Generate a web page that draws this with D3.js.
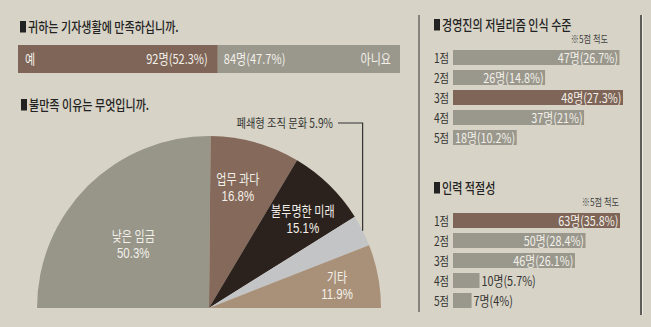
<!DOCTYPE html>
<html>
<head>
<meta charset="utf-8">
<script src="https://cdn.jsdelivr.net/npm/d3@7/dist/d3.min.js"></script>
<style>
  html, body { margin: 0; padding: 0; background: #d7d3c6; }
  svg { display: block; }
  text { font-family: "Noto Sans CJK KR", "Noto Sans", sans-serif; }
</style>
</head>
<body>
<svg id="chart" width="651" height="327"></svg>
<script>
// Survey data
const satisfactionLabels = ["예", "아니요"];
const satisfactionCounts = [92, 84];
const satisfactionPct = [52.3, 47.7];

const reasonLabels = ["낮은 임금", "업무 과다", "불투명한 미래", "폐쇄형 조직 문화", "기타"];
const reasonPct = [50.3, 16.8, 15.1, 5.9, 11.9];

const scoreLabels = ["1점", "2점", "3점", "4점", "5점"];
const mgmtCounts = [47, 26, 48, 37, 18];
const mgmtPct = [26.7, 14.8, 27.3, 21, 10.2];
const staffCounts = [63, 50, 46, 10, 7];
const staffPct = [35.8, 28.4, 26.1, 5.7, 4];

const titles = ["귀하는 기자생활에 만족하십니까.", "불만족 이유는 무엇입니까.",
                "경영진의 저널리즘 인식 수준", "인력 적절성"];
const scaleNote = "※5점 척도";

// Palette
const C = {
  ink: "#222", text: "#333", light: "#f3f0ea",
  brown: "#7e6557", gray: "#9a988d",
  pie: ["#979689", "#85695a", "#2b221d", "#c3c4c6", "#a99079"]
};
const CONDENSE = 0.82;

const svg = d3.select("#chart");

// Condensed text helper
function txt(g, x, y, s, o = {}) {
  return g.append("text")
    .attr("transform", `translate(${x},${y}) scale(${CONDENSE},1)`)
    .attr("text-anchor", o.anchor || "start")
    .attr("font-size", o.size || 13)
    .attr("font-weight", o.weight || 400)
    .attr("fill", o.fill || C.text)
    .text(s);
}
function title(g, x, y, s) {
  g.append("rect").attr("class", "marker")
    .attr("x", x).attr("y", y - 11).attr("width", 6).attr("height", 11.5).attr("fill", C.ink);
  txt(g, x + 8, y, s, { size: 13.5, weight: 500, fill: C.ink });
}
const fmt = (n, p) => `${n}명(${p}%)`;

// ---- Satisfaction split bar ----
const splitG = svg.append("g");
title(splitG, 20, 32, titles[0]);
const xs = d3.scaleLinear().domain([0, 100]).range([18, 400]);
const cum = [0, satisfactionPct[0], 100];
splitG.selectAll("rect.split").data(satisfactionPct).join("rect")
  .attr("class", "split")
  .attr("x", (d, i) => xs(cum[i]))
  .attr("width", (d, i) => xs(cum[i + 1]) - xs(cum[i]))
  .attr("y", 45).attr("height", 28)
  .attr("fill", (d, i) => i === 0 ? C.brown : C.gray);
txt(splitG, xs(0) + 7, 64, satisfactionLabels[0], { fill: C.light, size: 13.5 });
txt(splitG, xs(cum[1]) - 10, 64, fmt(satisfactionCounts[0], satisfactionPct[0]), { anchor: "end", fill: C.light, size: 13.5 });
txt(splitG, xs(cum[1]) + 6, 64, fmt(satisfactionCounts[1], satisfactionPct[1]), { fill: C.light, size: 13.5 });
txt(splitG, xs(100) - 9, 64, satisfactionLabels[1], { anchor: "end", fill: C.light, size: 13.5 });

// ---- Reasons half pie ----
const pieG = svg.append("g");
title(pieG, 21, 110, titles[1]);
const R = 172, cx = 209, cy = 308;
const pie = d3.pie().sort(null).value(d => d)
  .startAngle(-Math.PI / 2).endAngle(Math.PI / 2);
const arcs = pie(reasonPct);
const arc = d3.arc().innerRadius(0).outerRadius(R);
const wedge = pieG.append("g").attr("transform", `translate(${cx},${cy})`);
wedge.selectAll("path").data(arcs).join("path")
  .attr("d", arc)
  .attr("fill", (d, i) => C.pie[i]);

// Two-line slice labels (name + share), placed in polar coords around each slice's middle
const labelR = [99, 124, 129, null, 130];
const labelTurn = [-5.2, -2.2, 2.3, 0, 0.7].map(d => d * Math.PI / 180);
arcs.forEach((a, i) => {
  if (labelR[i] == null) return;
  const ang = (a.startAngle + a.endAngle) / 2 + labelTurn[i];
  const lx = labelR[i] * Math.sin(ang), ly = -labelR[i] * Math.cos(ang);
  const t = txt(wedge, lx, ly - 3, "", { anchor: "middle", fill: C.light, size: 13.5 });
  t.append("tspan").attr("x", 0).attr("dy", 0).text(reasonLabels[i]);
  t.append("tspan").attr("x", 0).attr("dy", 16.5)
    .attr("font-family", "'Liberation Sans', Arial, sans-serif")
    .attr("font-size", 14)
    .text(reasonPct[i] + "%");
});
// Callout for the thin slice
{
  const a = arcs[3];
  const mid = (a.startAngle + a.endAngle) / 2;
  const ex = cx + R * Math.sin(mid), ey = cy - R * Math.cos(mid);
  const ty = 123;
  pieG.append("path")
    .attr("d", `M${ex},${ey}V${ty}H${338}`)
    .attr("fill", "none").attr("stroke", "#333").attr("stroke-width", 1.2);
  txt(pieG, 333, ty + 4.5, `${reasonLabels[3]} ${reasonPct[3]}%`, { anchor: "end", size: 12.5 });
}

// ---- Right panel frame ----
svg.append("line").attr("x1", 419).attr("x2", 419).attr("y1", 15).attr("y2", 312)
  .attr("stroke", "#85837c").attr("stroke-width", 2);
svg.append("line").attr("x1", 641).attr("x2", 641).attr("y1", 15).attr("y2", 315)
  .attr("stroke", "#5e5d59").attr("stroke-width", 2);
svg.append("line").attr("x1", 642.5).attr("x2", 642.5).attr("y1", 15).attr("y2", 315)
  .attr("stroke", "#eeebe3").attr("stroke-width", 1);

// ---- Score bar panels ----
function scorePanel(y0, heading, counts, pct, highlight, maxW, noteX) {
  const g = svg.append("g");
  title(g, 434, y0, heading);
  txt(g, noteX, y0 + 13, scaleNote, { anchor: "end", size: 10, fill: "#444" });
  const x = d3.scaleLinear().domain([0, d3.max(counts)]).range([0, maxW]);
  const y = d3.scaleBand().domain(scoreLabels).range([y0 + 20, y0 + 115]).paddingInner(0.25);
  const x0 = 453;
  g.selectAll("rect.bar").data(counts).join("rect")
    .attr("class", "bar")
    .attr("x", x0).attr("y", (d, i) => y(scoreLabels[i]))
    .attr("width", d => x(d)).attr("height", y.bandwidth())
    .attr("fill", (d, i) => i === highlight ? C.brown : C.gray);
  scoreLabels.forEach((s, i) => {
    const yy = y(s) + y.bandwidth() / 2 + 5;
    txt(g, 449, yy, s, { anchor: "end", size: 12.5 });
    const label = fmt(counts[i], pct[i]);
    if (x(counts[i]) > 55) {
      txt(g, x0 + x(counts[i]) - 1.5, yy, label, { anchor: "end", size: 13.2, fill: C.light });
    } else {
      txt(g, x0 + x(counts[i]) + 2, yy, label, { size: 13.2, fill: C.text });
    }
  });
}
scorePanel(30, titles[2], mgmtCounts, mgmtPct, 2, 170, 608);
scorePanel(193, titles[3], staffCounts, staffPct, 0, 167, 619);
</script>
</body>
</html>
